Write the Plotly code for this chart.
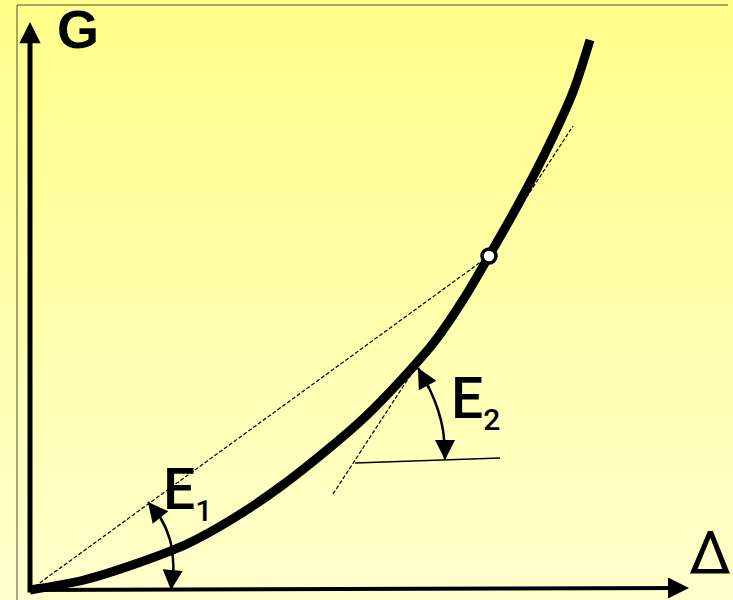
import plotly.graph_objects as go

# G(Δ) curve, measured from the corner where the two axes meet
curve_x = [0, 54, 108, 157, 204, 250, 297, 335, 372, 405, 433, 459, 489, 519, 543, 560]
curve_y = [0, 10, 27, 46, 72, 103, 140, 173, 211, 249, 290, 334, 387, 445, 498, 550]

# marked point on the curve
point_x = [459]
point_y = [334]

# tangent near E2 and its horizontal reference
tangent_x = [303, 543]
tangent_y = [96, 464]
level_x = [325, 470]
level_y = [127, 132]

# angle arcs
arc1_x = [118, 130, 140, 143, 143, 141]
arc1_y = [88, 73, 50, 30, 10, 0]
arc2_x = [388, 400, 408, 413, 415]
arc2_y = [222, 200, 180, 160, 130]

# axis ends
y_axis_tip = (0, 568)
x_axis_tip = (659, 2)

FONT = "Roboto, Liberation Sans, Arial"

fig = go.Figure()

# secant from origin to the marked point
fig.add_trace(go.Scatter(
    x=[0, point_x[0]], y=[0, point_y[0]], mode="lines",
    line=dict(color="black", width=1.2, dash="4px,2px"), hoverinfo="skip",
))
fig.add_trace(go.Scatter(
    x=tangent_x, y=tangent_y, mode="lines",
    line=dict(color="black", width=1.2, dash="4px,2px"), hoverinfo="skip",
))
fig.add_trace(go.Scatter(
    x=level_x, y=level_y, mode="lines",
    line=dict(color="black", width=1.6), hoverinfo="skip",
))
for ax_, ay_ in [(arc1_x, arc1_y), (arc2_x, arc2_y)]:
    fig.add_trace(go.Scatter(
        x=ax_, y=ay_, mode="lines", line_shape="spline",
        line=dict(color="black", width=2.5), hoverinfo="skip",
    ))
fig.add_trace(go.Scatter(
    x=curve_x, y=curve_y, mode="lines", line_shape="spline",
    line=dict(color="black", width=9, smoothing=0.8), hoverinfo="skip",
))
fig.add_trace(go.Scatter(
    x=point_x, y=point_y, mode="markers",
    marker=dict(size=14, color="white", line=dict(color="black", width=3.5)),
    hoverinfo="skip",
))

# arrows: axes and arc ends
arrows = [
    (y_axis_tip, (0, -4), 5, 0.85),
    (x_axis_tip, (-2, 0), 4, 1.05),
    ((arc1_x[0], arc1_y[0]), (arc1_x[1], arc1_y[1]), 2.5, 1.6),
    ((arc1_x[-1], arc1_y[-1]), (arc1_x[-1] + 1, arc1_y[-1] + 12), 2.5, 1.6),
    ((arc2_x[0], arc2_y[0]), (arc2_x[1], arc2_y[1]), 2.5, 1.6),
    ((arc2_x[-1], arc2_y[-1]), (arc2_x[-1], arc2_y[-1] + 12), 2.5, 1.6),
]
for (hx, hy), (tx, ty), w, s in arrows:
    fig.add_annotation(
        x=hx, y=hy, ax=tx, ay=ty, xref="x", yref="y", axref="x", ayref="y",
        text="", showarrow=True, arrowhead=2, arrowwidth=w, arrowsize=s,
        arrowcolor="black",
    )

# labels: text, x, centre y, anchor, size, family, weight
SUB = "<sub><span style='font-size:30px'>{}</span></sub>"
labels = [
    ("<b>G</b>", 25, 561, "left", 54, "Liberation Sans, Arial", "bold"),
    ("Δ", 680, 38, "center", 60, FONT, "normal"),
    ("E" + SUB.format("1"), 131, 98, "left", 57, FONT, 500),
    ("E" + SUB.format("2"), 419, 189, "left", 57, FONT, 500),
]
for txt, x, y, anchor, size, fam, wt in labels:
    fig.add_annotation(
        x=x, y=y, xref="x", yref="y", showarrow=False, text=txt,
        font=dict(family=fam, size=size, color="black", weight=wt),
        xanchor=anchor, yanchor="middle",
    )

# yellow vertical gradient background
top, bottom = (255, 255, 138), (255, 255, 204)
n = 60
shapes = []
for i in range(n):
    t = i / (n - 1)
    c = tuple(round(a + (b - a) * t) for a, b in zip(top, bottom))
    shapes.append(dict(
        type="rect", xref="paper", yref="paper", layer="below",
        x0=0, x1=1, y0=1 - (i + 1) / n, y1=1 - i / n,
        fillcolor=f"rgb{c}", line=dict(width=0),
    ))
# thin frame at top and left
shapes.append(dict(type="line", xref="paper", yref="paper", layer="below",
                   x0=17 / 733, x1=728 / 733, y0=1 - 5 / 600, y1=1 - 5 / 600,
                   line=dict(color="#50502a", width=1)))
shapes.append(dict(type="line", xref="paper", yref="paper", layer="below",
                   x0=17 / 733, x1=17 / 733, y0=0, y1=1 - 5 / 600,
                   line=dict(color="#50502a", width=1)))

fig.update_layout(
    width=733, height=600,
    margin=dict(l=0, r=0, t=0, b=0),
    paper_bgcolor="#ffffaa", plot_bgcolor="rgba(0,0,0,0)",
    showlegend=False,
    shapes=shapes,
    xaxis=dict(range=[-30, 703], visible=False, fixedrange=True),
    yaxis=dict(range=[-10, 590], visible=False, fixedrange=True),
)

fig.write_html(
    "out.html",
    config={"displayModeBar": False},
    post_script="document.body.style.margin='0';document.body.style.overflow='hidden';",
)
